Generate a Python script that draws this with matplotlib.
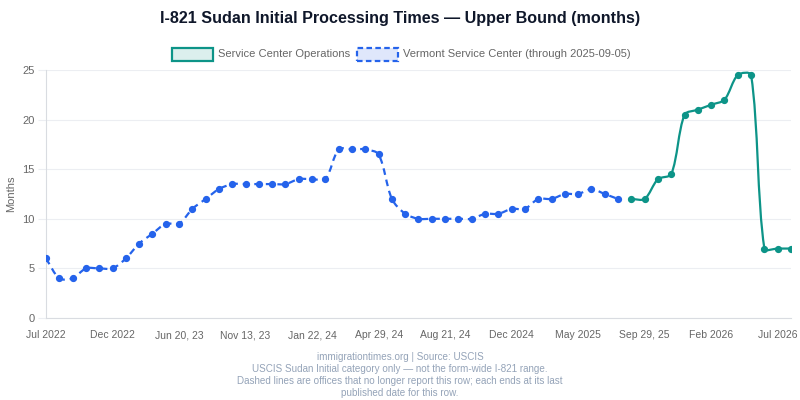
import numpy as np
import matplotlib
matplotlib.use("Agg")
import matplotlib.pyplot as plt
from matplotlib.path import Path
from matplotlib.patches import PathPatch, Rectangle

# ==========================================
# DATA (upper bound, months)
# ==========================================
vermont_months = [6, 4, 4, 5, 5, 5, 6, 7.5, 8.5, 9.5, 9.5, 11, 12, 13, 13.5,
                  13.5, 13.5, 13.5, 13.5, 14, 14, 14, 17, 17, 17, 16.5, 12,
                  10.5, 10, 10, 10, 10, 10, 10.5, 10.5, 11, 11, 12, 12, 12.5,
                  12.5, 13, 12.5, 12]
service_center_months = [12, 12, 14, 14.5, 20.5, 21, 21.5, 22, 24.5, 24.5,
                         7, 7, 7]
tick_labels = ["Jul 2022", "Dec 2022", "Jun 20, 23", "Nov 13, 23", "Jan 22, 24",
               "Apr 29, 24", "Aug 21, 24", "Dec 2024", "May 2025", "Sep 29, 25",
               "Feb 2026", "Jul 2026"]

vermont_x = np.arange(len(vermont_months))
service_x = np.arange(len(service_center_months)) + len(vermont_months)
n_total = len(vermont_months) + len(service_center_months)

GREEN = "#0d9488"
BLUE = "#2563eb"
GRID = "#eceef2"
TICK = "#666666"

plt.rcParams['font.family'] = ['Liberation Sans', 'DejaVu Sans']


def smooth_path(ax, xs, ys, tension=0.3):
    # chart.js style bezier through the points, computed in pixel space
    pts = ax.transData.transform(np.column_stack([xs, ys]))
    n = len(pts)
    c_in, c_out = [], []
    for i in range(n):
        prev = pts[max(i - 1, 0)]
        cur = pts[i]
        nxt = pts[min(i + 1, n - 1)]
        d01 = np.hypot(*(cur - prev))
        d12 = np.hypot(*(nxt - cur))
        tot = d01 + d12
        s01 = d01 / tot if tot else 0
        s12 = d12 / tot if tot else 0
        c_in.append(cur - tension * s01 * (nxt - prev))
        c_out.append(cur + tension * s12 * (nxt - prev))
    verts = [pts[0]]
    codes = [Path.MOVETO]
    for i in range(1, n):
        verts += [c_out[i - 1], c_in[i], pts[i]]
        codes += [Path.CURVE4] * 3
    verts = ax.transData.inverted().transform(np.array(verts))
    return Path(verts, codes)


fig = plt.figure(figsize=(8, 4), dpi=100)
ax = fig.add_axes([46 / 800, 1 - 318 / 400, 745 / 800, 248 / 400])
ax.set_xlim(0, n_total - 1)
ax.set_ylim(0, 25)

ax.add_patch(PathPatch(smooth_path(ax, vermont_x, vermont_months), fill=False,
                       edgecolor=BLUE, lw=1.6, linestyle=(0, (3, 2.2)),
                       capstyle='butt', zorder=3))
ax.plot(vermont_x, vermont_months, 'o', color=BLUE, ms=4.2, zorder=4)

ax.add_patch(PathPatch(smooth_path(ax, service_x, service_center_months), fill=False,
                       edgecolor=GREEN, lw=1.6, zorder=3))
ax.plot(service_x, service_center_months, 'o', color=GREEN, ms=4.2, zorder=4)

ax.set_yticks([0, 5, 10, 15, 20, 25])
ax.set_xticks(np.arange(0, n_total, 5)[:len(tick_labels)])
ax.set_xticklabels(tick_labels)
ax.tick_params(axis='y', length=6, color=GRID, labelcolor=TICK, labelsize=8, pad=2)
ax.tick_params(axis='x', length=0, labelcolor=TICK, labelsize=7.5, pad=9)
ax.grid(True, axis='y', color=GRID, lw=0.8)
ax.set_axisbelow(True)
for side in ['top', 'right']:
    ax.spines[side].set_visible(False)
for side in ['left', 'bottom']:
    ax.spines[side].set_color("#d9dce1")
ax.set_ylabel("Months", color=TICK, fontsize=8)
ax.yaxis.set_label_coords(-(46 - 16) / 745, 0.5)

fig.text(0.5, 1 - 19 / 400, "I-821 Sudan Initial Processing Times \u2014 Upper Bound (months)",
         ha='center', va='center', fontsize=11.6, fontweight='bold', color="#0f172a")

# legend drawn by hand to match the boxed style
fig.patches.append(Rectangle((172 / 800, 1 - 60.5 / 400), 41 / 800, 12 / 400,
                             transform=fig.transFigure, facecolor="#dcefed",
                             edgecolor=GREEN, lw=1.6))
fig.text(218 / 800, 1 - 54 / 400, "Service Center Operations", ha='left', va='center',
         fontsize=8, color=TICK)
fig.patches.append(Rectangle((357 / 800, 1 - 60.5 / 400), 41 / 800, 12 / 400,
                             transform=fig.transFigure, facecolor="#dfe7fb",
                             edgecolor=BLUE, lw=1.6, linestyle=(0, (2.5, 1.5))))
fig.text(403 / 800, 1 - 54 / 400, "Vermont Service Center (through 2025-09-05)",
         ha='left', va='center', fontsize=8, color=TICK)

footer = ["immigrationtimes.org | Source: USCIS",
          "USCIS Sudan Initial category only \u2014 not the form-wide I-821 range.",
          "Dashed lines are offices that no longer report this row; each ends at its last",
          "published date for this row."]
for i, line in enumerate(footer):
    fig.text(0.5, 1 - (357 + 12 * i) / 400, line, ha='center', va='center',
             fontsize=7.1, color="#94a3b8")

fig.savefig("out.png", dpi=100)
